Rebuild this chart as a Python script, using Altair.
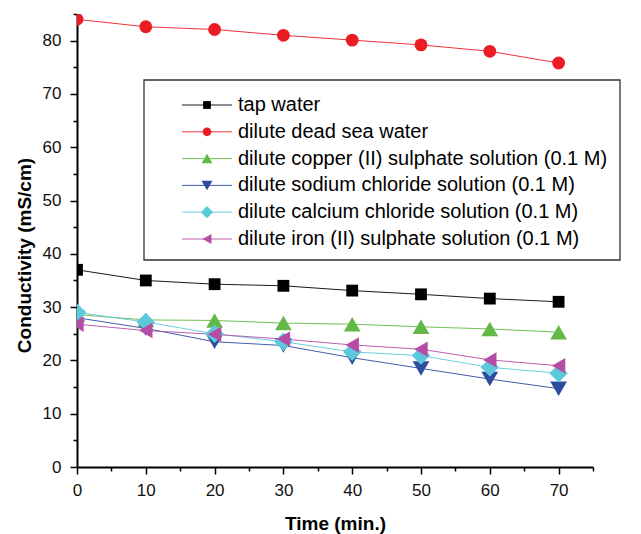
import altair as alt
import pandas as pd

# Sampling times (min.)
times = [0, 10, 20, 30, 40, 50, 60, 70]

# Conductivity readings (mS/cm) for each solution
tap_water = [37.0, 35.0, 34.3, 34.0, 33.1, 32.4, 31.6, 31.0]
dead_sea = [84.0, 82.6, 82.1, 81.0, 80.1, 79.2, 78.0, 75.8]
copper_sulphate = [28.6, 27.6, 27.5, 27.0, 26.8, 26.3, 25.9, 25.3]
sodium_chloride = [28.0, 26.0, 23.5, 22.8, 20.5, 18.5, 16.5, 14.7]
calcium_chloride = [29.0, 27.2, 25.0, 23.5, 21.6, 20.9, 18.7, 17.6]
iron_sulphate = [26.8, 25.6, 24.9, 24.0, 22.9, 22.1, 20.1, 19.0]

series_names = [
    "tap water",
    "dilute dead sea water",
    "dilute copper (II) sulphate solution (0.1 M)",
    "dilute sodium chloride solution (0.1 M)",
    "dilute calcium chloride solution (0.1 M)",
    "dilute iron (II) sulphate solution (0.1 M)",
]
series_values = [tap_water, dead_sea, copper_sulphate, sodium_chloride,
                 calcium_chloride, iron_sulphate]

colors = ["#000000", "#ec1c24", "#62b946", "#2e4c9f", "#5cc8dc", "#b54ca5"]
shapes = ["square", "circle", "triangle-up", "triangle-down", "diamond", "triangle-left"]
marker_sizes = [140, 165, 280, 280, 340, 240]
legend_sizes = [60, 75, 120, 120, 150, 105]

rows = []
for order, (name, vals) in enumerate(zip(series_names, series_values)):
    for t, v in zip(times, vals):
        rows.append({"time": t, "conductivity": v, "series": name, "order": order})
df = pd.DataFrame(rows)
legend_df = pd.DataFrame({"series": series_names})

FONT = "Liberation Sans"
color_enc = alt.Color("series:N", scale=alt.Scale(domain=series_names, range=colors), legend=None)
shape_enc = alt.Shape("series:N", scale=alt.Scale(domain=series_names, range=shapes), legend=None)

minor_tick = {"condition": {"test": "datum.value % 10 === 0", "value": 7}, "value": 4}
label_major = "datum.value % 10 === 0 ? datum.label : ''"

x_enc = alt.X(
    "time:Q",
    scale=alt.Scale(domain=[0, 75], nice=False, zero=False),
    axis=alt.Axis(
        values=list(range(0, 80, 5)),
        labelExpr=label_major,
        tickSize=minor_tick,
        title="Time (min.)",
        titleY=56,
        titleBaseline="middle",
    ),
)
y_enc = alt.Y(
    "conductivity:Q",
    scale=alt.Scale(domain=[0, 85], nice=False),
    axis=alt.Axis(
        values=list(range(0, 90, 5)),
        labelExpr=label_major,
        tickSize=minor_tick,
        title="Conductivity (mS/cm)",
        titleAngle=270,
        titleX=-53,
        titleY=241,
        titleAlign="center",
        titleBaseline="middle",
    ),
)

base = alt.Chart(df)
lines = base.mark_line(strokeWidth=0.9, clip=True).encode(
    x=x_enc, y=y_enc, color=color_enc, detail="series:N", order="time:Q"
)
points = base.mark_point(filled=True, opacity=1, clip=True).encode(
    x=x_enc, y=y_enc, color=color_enc, shape=shape_enc,
    size=alt.Size("series:N",
                  scale=alt.Scale(type="ordinal", domain=series_names, range=marker_sizes),
                  legend=None),
    order="order:Q",
)
plot_layer = alt.layer(lines, points)

# Hand-built legend: line + marker + label per series inside a framed box
leg_y = alt.Y("series:N", sort=series_names,
              scale=alt.Scale(type="point", domain=series_names, range=[91, 225], padding=0),
              axis=None)
leg_base = alt.Chart(legend_df)
frame = leg_base.mark_rect(fill="white", stroke="#333333", strokeWidth=1.3).encode(
    x=alt.value(67), x2=alt.value(543), y=alt.value(66), y2=alt.value(246)
).transform_filter("datum.series === 'tap water'")
leg_lines = leg_base.mark_rule(strokeWidth=0.9).encode(
    x=alt.value(105), x2=alt.value(155), y=leg_y, color=color_enc
)
leg_marks = leg_base.mark_point(filled=True, opacity=1).encode(
    x=alt.value(130), y=leg_y, color=color_enc, shape=shape_enc,
    size=alt.Size("series:N",
                  scale=alt.Scale(type="ordinal", domain=series_names, range=legend_sizes),
                  legend=None),
)
leg_text = leg_base.mark_text(align="left", baseline="middle", fontSize=20, font=FONT,
                              color="black").encode(
    x=alt.value(161), y=leg_y, text="series:N"
)
legend_layer = alt.layer(frame, leg_lines, leg_marks, leg_text)

chart = (
    alt.layer(plot_layer, legend_layer)
    .resolve_scale(y="independent", size="independent")
    .properties(
        width=516,
        height=453,
        autosize=alt.AutoSizeParams(type="none"),
        padding={"left": 77, "top": 14, "right": 48, "bottom": 67},
        background="white",
    )
    .configure_view(stroke=None)
    .configure_axis(
        grid=False,
        domainColor="black",
        domainWidth=2,
        tickColor="black",
        tickWidth=1.5,
        labelFont=FONT,
        labelFontSize=17,
        labelColor="#111111",
        labelFlush=False,
        titleFont=FONT,
        titleFontSize=19,
        titleFontWeight="bold",
        titleColor="black",
    )
    .configure_axisX(labelPadding=8)
    .configure_axisY(labelPadding=9)
)

chart.save("out.html", embed_options={"renderer": "svg", "actions": False})
